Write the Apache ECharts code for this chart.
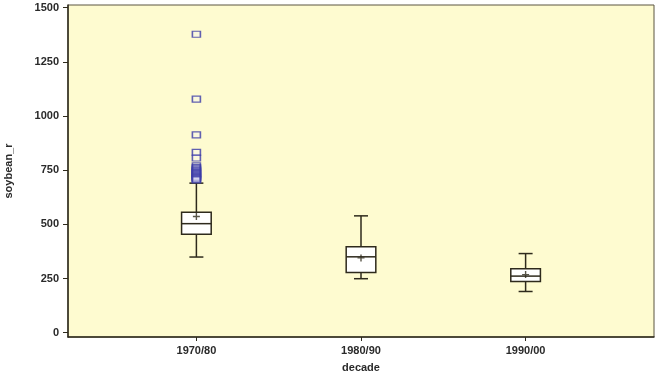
<!DOCTYPE html>
<html>
<head>
<meta charset="utf-8">
<style>html,body{margin:0;padding:0;background:#fff;}#c{width:661px;height:379px;}</style>
<script src="https://cdn.jsdelivr.net/npm/echarts@6/dist/echarts.min.js"></script>
</head>
<body>
<div id="c"></div>
<script>
const categories = ['1970/80', '1980/90', '1990/00'];
const positions = [1, 2, 3];
const whiskerLow = [349, 249, 190];
const q1 = [454, 278, 236];
const median = [503, 350, 261];
const q3 = [556, 396, 295];
const whiskerHigh = [690, 539, 365];
const means = [536, 345, 268];
const outliers1970 = [1377, 1078, 913, 832, 806, 770, 762, 756, 750, 745, 740, 735, 730, 725, 720, 716, 712, 708, 705];
const yTicks = [0, 250, 500, 750, 1000, 1250, 1500];

const boxData = positions.map((p, i) => [p, whiskerLow[i], q1[i], median[i], q3[i], whiskerHigh[i]]);
const meanData = positions.map((p, i) => [p, means[i]]);
const outlierData = outliers1970.map(v => [positions[0], v]);

const ink = '#2e2a1c';
const chart = echarts.init(document.getElementById('c'));
chart.setOption({
  animation: false,
  backgroundColor: '#ffffff',
  textStyle: { fontFamily: 'Liberation Sans, Arial, sans-serif' },
  grid: { left: 68, right: 7, top: 5, bottom: 42, outerBoundsMode: 'none', containLabel: false,
    show: true, backgroundColor: '#fefbd0', borderColor: '#5a5440', borderWidth: 1 },
  xAxis: {
    type: 'value', min: 0.22, max: 3.78,
    name: 'decade', nameLocation: 'middle', nameGap: 25,
    nameTextStyle: { fontWeight: 'bold', fontSize: 11, color: '#2a2a2a' },
    axisLine: { show: true, onZero: false, lineStyle: { color: ink, width: 1.5 } },
    axisTick: { show: true, customValues: positions, length: 4, lineStyle: { color: ink } },
    axisLabel: { customValues: positions, margin: 8, fontWeight: 'bold', fontSize: 11, color: '#2a2a2a',
      formatter: v => categories[Math.round(v) - 1] || '' },
    splitLine: { show: false }
  },
  yAxis: {
    type: 'value', min: -20, max: 1512,
    name: 'soybean_r', nameLocation: 'middle', nameGap: 54, nameRotate: 90,
    nameTextStyle: { fontWeight: 'bold', fontSize: 11, color: '#2a2a2a' },
    axisLine: { show: true, onZero: false, lineStyle: { color: ink, width: 1.5 } },
    axisTick: { show: true, customValues: yTicks, length: 5, lineStyle: { color: ink } },
    axisLabel: { customValues: yTicks, margin: 9, fontWeight: 'bold', fontSize: 11, color: '#2a2a2a',
      formatter: v => String(v) },
    splitLine: { show: false }
  },
  series: [
    {
      type: 'custom',
      data: boxData,
      renderItem: function (params, api) {
        const x = api.value(0);
        const boxW = api.size([0.18, 0])[0];
        const capW = api.size([0.085, 0])[0];
        const pLo = api.coord([x, api.value(1)]);
        const pQ1 = api.coord([x, api.value(2)]);
        const pMed = api.coord([x, api.value(3)]);
        const pQ3 = api.coord([x, api.value(4)]);
        const pHi = api.coord([x, api.value(5)]);
        const cx = pMed[0];
        const st = { stroke: ink, lineWidth: 1.5, fill: null };
        return {
          type: 'group',
          children: [
            { type: 'line', shape: { x1: cx, y1: pQ3[1], x2: cx, y2: pHi[1] }, style: st },
            { type: 'line', shape: { x1: cx, y1: pQ1[1], x2: cx, y2: pLo[1] }, style: st },
            { type: 'line', shape: { x1: cx - capW / 2, y1: pHi[1], x2: cx + capW / 2, y2: pHi[1] }, style: st },
            { type: 'line', shape: { x1: cx - capW / 2, y1: pLo[1], x2: cx + capW / 2, y2: pLo[1] }, style: st },
            { type: 'rect', shape: { x: cx - boxW / 2, y: pQ3[1], width: boxW, height: pQ1[1] - pQ3[1] },
              style: { fill: '#ffffff', stroke: ink, lineWidth: 1.5 } },
            { type: 'line', shape: { x1: cx - boxW / 2, y1: pMed[1], x2: cx + boxW / 2, y2: pMed[1] }, style: st }
          ]
        };
      }
    },
    {
      type: 'scatter',
      data: outlierData,
      symbol: 'rect',
      symbolSize: [8, 6],
      itemStyle: { color: 'rgba(240,240,255,0.35)', borderColor: '#3a3aa6', borderWidth: 1.4 },
      z: 3
    },
    {
      type: 'scatter',
      data: meanData,
      symbol: 'path://M3.2,0h1.6v3.2h3.2v1.6h-3.2v3.2h-1.6v-3.2h-3.2v-1.6h3.2z',
      symbolSize: 7,
      itemStyle: { color: ink },
      z: 4
    }
  ]
});
</script>
</body>
</html>
